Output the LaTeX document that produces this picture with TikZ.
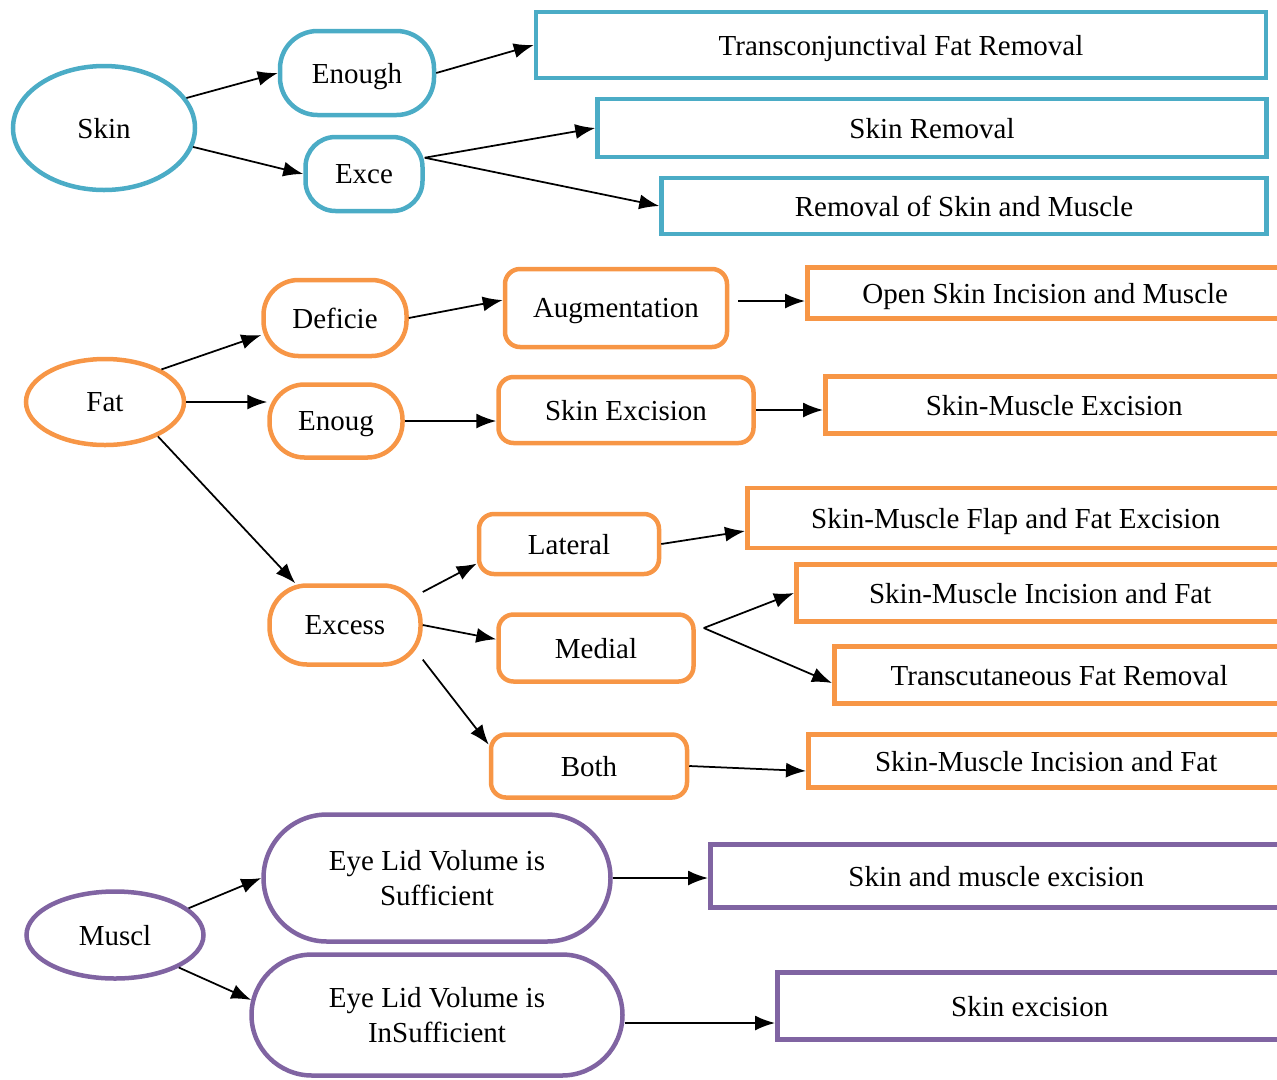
\documentclass[tikz,border=0pt]{standalone}
\usepackage{fontspec}
\setmainfont{Liberation Serif}
\usetikzlibrary{arrows.meta,shapes.geometric}
\definecolor{skinblue}{HTML}{4BACC6}
\definecolor{fatorange}{HTML}{F79646}
\definecolor{musclepurple}{HTML}{8064A2}

\begin{document}
\begin{tikzpicture}[
    every node/.style = {inner sep=0pt, line width=0.09cm, font=\fontsize{16.5}{19.5}\selectfont},
    flat/.style = {text depth=0pt},
    oval/.style = {ellipse, draw, flat},
    soft/.style = {rectangle, rounded corners=0.7cm, draw, flat},
    tall/.style = {rectangle, draw, align=center},
    block/.style = {rectangle, rounded corners=0.3cm, draw, flat},
    leaf/.style = {rectangle, draw, anchor=west, flat},
    sk/.style = {draw=skinblue}, ft/.style = {draw=fatorange}, mu/.style = {draw=musclepurple},
    arr/.style = {-{Latex[length=0.4cm,width=0.3cm]}, line width=0.035cm}]
    \useasboundingbox (0,0) rectangle (25.54,-21.58);

    % skin
    \node[oval, sk, minimum width=3.64cm, minimum height=2.48cm] (skin) at (2.08,-2.56) {Skin};
    \node[soft, sk, minimum width=3.08cm, minimum height=1.68cm, rounded corners=0.75cm] (enough) at (7.14,-1.46) {Enough};
    \node[soft, sk, minimum width=2.34cm, minimum height=1.48cm, rounded corners=0.6cm] (exce) at (7.28,-3.48) {Exce};
    \node[rectangle, draw, flat, sk, minimum width=14.6cm, minimum height=1.32cm] (trans) at (18.02,-0.9) {Transconjunctival Fat Removal};
    \node[rectangle, draw, flat, sk, minimum width=13.38cm, minimum height=1.16cm] (skrem) at (18.64,-2.56) {Skin Removal};
    \node[rectangle, draw, flat, sk, minimum width=12.1cm, minimum height=1.12cm] (skmrem) at (19.28,-4.12) {Removal of Skin and Muscle};

    \draw[arr] (skin.20) -- (enough.west);
    \draw[arr] (skin.-12) -- (exce.west);
    \draw[arr] (enough.east) -- (trans.west);
    \draw[arr] (exce.15) -- (skrem.west);
    \draw[arr] (exce.15) -- (skmrem.west);

    % fat
    \node[oval, ft, minimum width=3.16cm, minimum height=1.72cm] (fat) at (2.1,-8.04) {Fat};
    \node[soft, ft, minimum width=2.86cm, minimum height=1.52cm] (deficie) at (6.7,-6.36) {Deficie};
    \node[soft, ft, minimum width=2.66cm, minimum height=1.46cm] (enoug) at (6.72,-8.42) {Enoug};
    \node[block, ft, minimum width=4.44cm, minimum height=1.56cm] (aug) at (12.32,-6.16) {Augmentation};
    \node[block, ft, minimum width=5.1cm, minimum height=1.32cm] (skexc) at (12.52,-8.2) {Skin Excision};
    \node[leaf, ft, minimum width=9.52cm, minimum height=1.02cm] (open) at (16.1,-5.86) {Open Skin Incision and Muscle};
    \node[leaf, ft, minimum width=9.16cm, minimum height=1.14cm] (skmexc) at (16.46,-8.1) {Skin-Muscle Excision};
    \node[soft, ft, minimum width=3.02cm, minimum height=1.58cm, rounded corners=0.75cm] (excess) at (6.9,-12.5) {Excess};
    \node[block, ft, minimum width=3.6cm, minimum height=1.2cm] (lateral) at (11.38,-10.88) {Lateral};
    \node[block, ft, minimum width=3.9cm, minimum height=1.34cm] (medial) at (11.92,-12.96) {Medial};
    \node[block, ft, minimum width=3.92cm, minimum height=1.26cm] (both) at (11.78,-15.32) {Both};
    \node[leaf, ft, minimum width=10.74cm, minimum height=1.2cm] (flap) at (14.9,-10.36) {Skin-Muscle Flap and Fat Excision};
    \node[leaf, ft, minimum width=9.76cm, minimum height=1.14cm] (smif) at (15.88,-11.86) {Skin-Muscle Incision and Fat};
    \node[leaf, ft, minimum width=9.0cm, minimum height=1.14cm] (tfr) at (16.64,-13.5) {Transcutaneous Fat Removal};
    \node[leaf, ft, minimum width=9.52cm, minimum height=1.06cm] (smifb) at (16.12,-15.22) {Skin-Muscle Incision and Fat};
    \coordinate (msplit) at ([xshift=0.16cm,yshift=0.4cm]medial.east);

    \draw[arr] (fat.30) -- (deficie.193);
    \draw[arr] (fat.east) -- (fat.east -| enoug.west);
    \draw[arr] (fat.-33) -- (excess.140);
    \draw[arr] (deficie.east) -- (aug.176);
    \draw[arr] ([xshift=0.18cm,yshift=0.14cm]aug.east) -- ([yshift=0.14cm]aug.east -| open.west);
    \draw[arr] (enoug.east) -- (enoug.east -| skexc.west);
    \draw[arr] (skexc.east) -- (skexc.east -| skmexc.west);
    \draw[arr] (excess.23) -- (lateral.192);
    \draw[arr] (excess.east) -- (medial.175);
    \draw[arr] (excess.-24) -- (both.168);
    \draw[arr] (lateral.east) -- ([yshift=-0.26cm]flap.west);
    \draw[arr] (msplit) -- (smif.west);
    \draw[arr] (msplit) -- ([yshift=-0.16cm]tfr.west);
    \draw[arr] (both.east) -- ([yshift=-0.2cm]smifb.west);

    % muscle
    \node[oval, mu, minimum width=3.54cm, minimum height=1.74cm] (muscl) at (2.3,-18.7) {Muscl};
    \node[tall, mu, minimum width=6.94cm, minimum height=2.54cm, rounded corners=1.27cm] (suff) at (8.74,-17.56) {Eye Lid Volume is\\Sufficient};
    \node[tall, mu, minimum width=7.42cm, minimum height=2.42cm, rounded corners=1.21cm] (insuff) at (8.74,-20.3) {Eye Lid Volume is\\InSufficient};
    \node[leaf, mu, minimum width=11.44cm, minimum height=1.26cm] (same) at (14.16,-17.52) {Skin and muscle excision};
    \node[leaf, mu, minimum width=10.1cm, minimum height=1.34cm] (sexc) at (15.5,-20.12) {Skin excision};

    \draw[arr] (muscl.20) -- (suff.west);
    \draw[arr] (muscl.-27) -- ([xshift=0.04cm,yshift=0.3cm]insuff.west);
    \draw[arr] (suff.east) -- (suff.east -| same.west);
    \draw[arr] ([yshift=-0.16cm]insuff.east) -- ([yshift=-0.16cm]insuff.east -| sexc.west);
\end{tikzpicture}
\end{document}
